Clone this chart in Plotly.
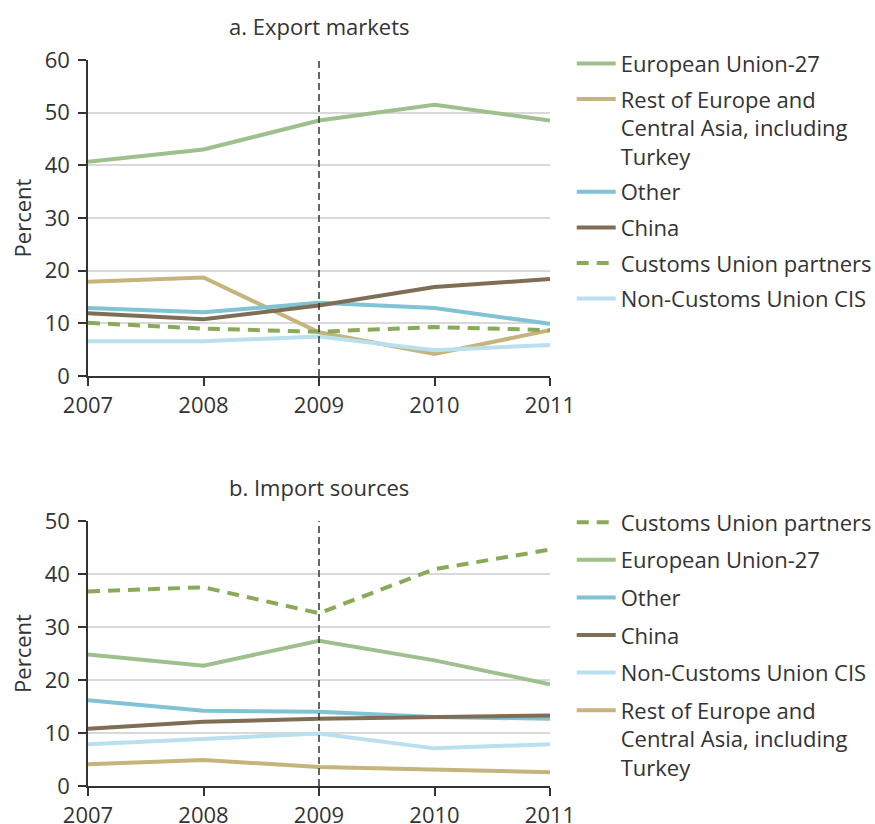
import plotly.graph_objects as go
from plotly.subplots import make_subplots

YEARS = [2007, 2008, 2009, 2010, 2011]

# Panel a: export markets (percent)
EXP_EU27 = [40.7, 43.0, 48.5, 51.5, 48.5]
EXP_REST_EUROPE = [17.9, 18.7, 8.3, 4.2, 8.7]
EXP_OTHER = [12.9, 12.1, 13.9, 12.9, 9.9]
EXP_CHINA = [11.9, 10.8, 13.4, 16.9, 18.4]
EXP_CUSTOMS = [10.1, 9.0, 8.4, 9.3, 8.7]
EXP_NONCU_CIS = [6.6, 6.6, 7.5, 4.9, 5.9]

# Panel b: import sources (percent)
IMP_CUSTOMS = [36.7, 37.5, 32.6, 40.9, 44.6]
IMP_EU27 = [24.8, 22.7, 27.4, 23.7, 19.2]
IMP_OTHER = [16.2, 14.2, 14.0, 13.0, 12.7]
IMP_CHINA = [10.8, 12.1, 12.7, 13.0, 13.3]
IMP_NONCU_CIS = [7.9, 8.9, 9.9, 7.1, 7.9]
IMP_REST_EUROPE = [4.1, 4.9, 3.6, 3.1, 2.6]

LBL_EU = "European Union-27"
LBL_REST = "Rest of Europe and<br>Central Asia, including<br>Turkey"
LBL_OTHER = "Other"
LBL_CHINA = "China"
LBL_CU = "Customs Union partners"
LBL_NONCU = "Non-Customs Union CIS"

C_EU = "#9dc08c"
C_REST = "#c5b47c"
C_OTHER = "#7fc3d5"
C_CHINA = "#7f6e55"
C_CU = "#8aaa59"
C_NONCU = "#b9e0ee"

FONT = "Open Sans"
TXT = "#333333"
FS = 22

fig = make_subplots(rows=2, cols=1, vertical_spacing=0.2)

top = [
    (LBL_EU, EXP_EU27, C_EU, "solid"),
    (LBL_REST, EXP_REST_EUROPE, C_REST, "solid"),
    (LBL_OTHER, EXP_OTHER, C_OTHER, "solid"),
    (LBL_CHINA, EXP_CHINA, C_CHINA, "solid"),
    (LBL_CU, EXP_CUSTOMS, C_CU, "12px,8px"),
    (LBL_NONCU, EXP_NONCU_CIS, C_NONCU, "solid"),
]
bottom = [
    (LBL_CU, IMP_CUSTOMS, C_CU, "12px,8px"),
    (LBL_EU, IMP_EU27, C_EU, "solid"),
    (LBL_OTHER, IMP_OTHER, C_OTHER, "solid"),
    (LBL_CHINA, IMP_CHINA, C_CHINA, "solid"),
    (LBL_NONCU, IMP_NONCU_CIS, C_NONCU, "solid"),
    (LBL_REST, IMP_REST_EUROPE, C_REST, "solid"),
]

for i, (name, vals, col, dash) in enumerate(top):
    fig.add_trace(go.Scatter(x=YEARS, y=vals, name=name, mode="lines",
                             line=dict(color=col, width=4, dash=dash),
                             legend="legend", legendgroup="a%d" % i), row=1, col=1)
for i, (name, vals, col, dash) in enumerate(bottom):
    fig.add_trace(go.Scatter(x=YEARS, y=vals, name=name, mode="lines",
                             line=dict(color=col, width=4, dash=dash),
                             legend="legend2", legendgroup="b%d" % i), row=2, col=1)

leg = dict(xanchor="left", yanchor="top", font=dict(size=FS, color=TXT),
           itemwidth=39, valign="top", traceorder="grouped",
           bgcolor="rgba(0,0,0,0)")
fig.update_layout(
    width=875, height=824,
    margin=dict(l=88, r=325, t=60, b=38, autoexpand=False),
    paper_bgcolor="white", plot_bgcolor="white",
    font=dict(family=FONT, size=FS, color=TXT),
    yaxis=dict(domain=[0.5647, 1.0]),
    yaxis2=dict(domain=[0.0, 0.365]),
    legend=dict(x=1.047, y=1.024, tracegroupgap=4, **leg),
    legend2=dict(x=1.047, y=0.392, tracegroupgap=6, **leg),
)

for r in (1, 2):
    fig.update_xaxes(range=[YEARS[0], YEARS[-1]], tickvals=YEARS, ticktext=[str(y) for y in YEARS],
                     showline=True, linecolor=TXT, linewidth=1.5, ticks="outside",
                     ticklen=8, tickcolor=TXT, tickwidth=1.5, showgrid=False, zeroline=False,
                     tickfont=dict(size=FS), ticklabelstandoff=1, automargin=False,
                     row=r, col=1)
fig.update_yaxes(range=[0, 60], dtick=10, row=1, col=1)
fig.update_yaxes(range=[0, 50], dtick=10, row=2, col=1)
for r in (1, 2):
    fig.update_yaxes(showline=True, linecolor=TXT, linewidth=1.5, ticks="outside",
                     ticklen=8, tickcolor=TXT, tickwidth=1.5, showgrid=True,
                     gridcolor="#d9d9d9", gridwidth=1.5, zeroline=False,
                     title=dict(text="Percent", font=dict(size=FS), standoff=7),
                     tickfont=dict(size=FS), ticklabelstandoff=4, automargin=False,
                     row=r, col=1)

# reference line at 2009
for r in (1, 2):
    fig.add_vline(x=YEARS[2], line=dict(color="#333333", width=1.5, dash="7px,4px"),
                  row=r, col=1)

# panel titles
fig.add_annotation(text="a. Export markets", x=0.5, xref="paper", y=1.0, yref="paper",
                   yanchor="bottom", yshift=17, showarrow=False, font=dict(size=FS, color=TXT))
fig.add_annotation(text="b. Import sources", x=0.5, xref="paper", y=0.365, yref="paper",
                   yanchor="bottom", yshift=17, showarrow=False, font=dict(size=FS, color=TXT))

fig.write_html("out.html", config={"displayModeBar": False},
               post_script="document.body.style.margin='0';")
